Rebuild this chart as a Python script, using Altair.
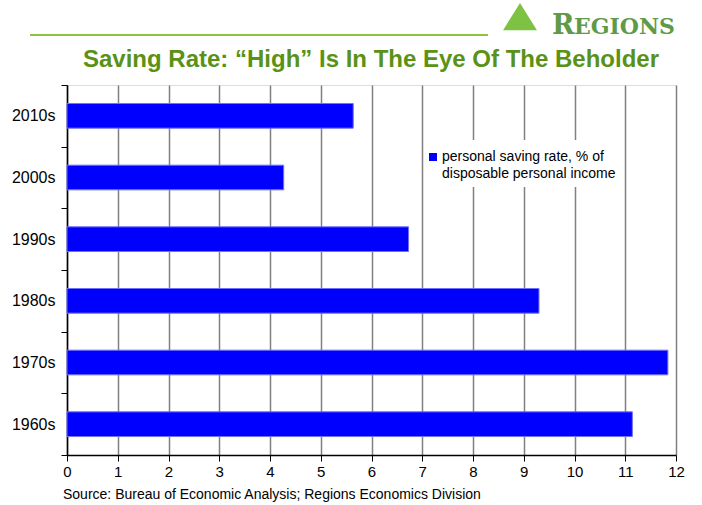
import altair as alt
import pandas as pd

decades = ["2010s", "2000s", "1990s", "1980s", "1970s", "1960s"]
rates = [5.64, 4.27, 6.73, 9.30, 11.84, 11.14]
x_ticks = list(range(0, 13))
legend_lines = ["personal saving rate, % of", "disposable personal income"]
title_text = "Saving Rate: \u201cHigh\u201d Is In The Eye Of The Beholder"
source_text = "Source: Bureau of Economic Analysis; Regions Economics Division"

df = pd.DataFrame({"decade": decades, "rate": rates})

W, H = 609, 370
FONT = "Liberation Sans"
OX, OY = 67, 85  # plot origin in page pixels

x_scale = alt.Scale(domain=[0, 12], nice=False, zero=True)

bars = alt.Chart(df).mark_bar(color="#0000ff", stroke="#7070ff", strokeWidth=1,
                              height=alt.RelativeBandSize(0.4)).encode(
    y=alt.Y("decade:N", sort=decades,
            scale=alt.Scale(paddingInner=0, paddingOuter=0),
            axis=alt.Axis(title=None, labelFontSize=16, labelFont=FONT, labelColor="#000",
                          labelPadding=6, domainColor="#000", domainWidth=1.5, tickColor="#000",
                          tickSize=6, tickBand="extent", grid=False, ticks=True)),
    x=alt.X("rate:Q", scale=x_scale,
            axis=alt.Axis(title=None, values=x_ticks, labelFontSize=15, labelFont=FONT,
                          labelColor="#000", labelPadding=3, domainColor="#000", domainWidth=1.5,
                          tickColor="#000", tickSize=6, grid=True, gridColor="#808080",
                          gridWidth=1.5, labelFlush=False)),
)

one = pd.DataFrame({"a": [0]})

legend_bg = alt.Chart(one).mark_rect(color="white").encode(
    x=alt.value(358), x2=alt.value(553), y=alt.value(55), y2=alt.value(102))
legend_sw = alt.Chart(one).mark_square(color="#0000ff", size=64, opacity=1).encode(
    x=alt.value(366), y=alt.value(72))
legend_t1 = alt.Chart(pd.DataFrame({"t": [legend_lines[0]]})).mark_text(
    align="left", baseline="middle", fontSize=14, font=FONT, color="#000").encode(
    x=alt.value(375), y=alt.value(72), text="t")
legend_t2 = alt.Chart(pd.DataFrame({"t": [legend_lines[1]]})).mark_text(
    align="left", baseline="middle", fontSize=14, font=FONT, color="#000").encode(
    x=alt.value(375), y=alt.value(89), text="t")

source = alt.Chart(pd.DataFrame({"t": [source_text]})).mark_text(
    align="left", baseline="middle", fontSize=14, font=FONT, color="#000").encode(
    x=alt.value(63 - OX), y=alt.value(495 - OY), text="t")

title = alt.Chart(pd.DataFrame({"t": [title_text]})).mark_text(
    align="center", baseline="middle", fontSize=24, font=FONT, fontWeight="bold",
    color="#5a9216").encode(
    x=alt.value(371 - OX), y=alt.value(60 - OY), text="t")

green_line = alt.Chart(one).mark_rule(color="#8cc43c", strokeWidth=2).encode(
    x=alt.value(30 - OX), x2=alt.value(488 - OX), y=alt.value(35 - OY))
logo_tri = alt.Chart(one).mark_point(shape="M-1,0.6L0,-1L1,0.6Z", filled=True,
                                     color="#7dc242", size=1150, opacity=1).encode(
    x=alt.value(520 - OX), y=alt.value(20 - OY))
logo_r = alt.Chart(pd.DataFrame({"t": ["R"]})).mark_text(
    align="left", baseline="alphabetic", fontSize=27, font="DejaVu Serif", fontWeight="bold",
    color="#5f9a48").encode(
    x=alt.value(552 - OX), y=alt.value(34 - OY), text="t")
logo_rest = alt.Chart(pd.DataFrame({"t": ["EGIONS"]})).mark_text(
    align="left", baseline="alphabetic", fontSize=22, font="DejaVu Serif", fontWeight="bold",
    color="#5f9a48").encode(
    x=alt.value(574 - OX), y=alt.value(34 - OY), text="t")

chart = alt.layer(bars, legend_bg, legend_sw, legend_t1, legend_t2, source, title,
                  green_line, logo_tri, logo_r, logo_rest).properties(
    width=W, height=H,
    autosize=alt.AutoSizeParams(type="none"),
    padding={"left": OX, "top": OY, "right": 26, "bottom": 50},
).configure_view(stroke="#000", strokeWidth=1.5).configure(background="white")

chart.save("out.html", embed_options={"renderer": "svg", "actions": False})
